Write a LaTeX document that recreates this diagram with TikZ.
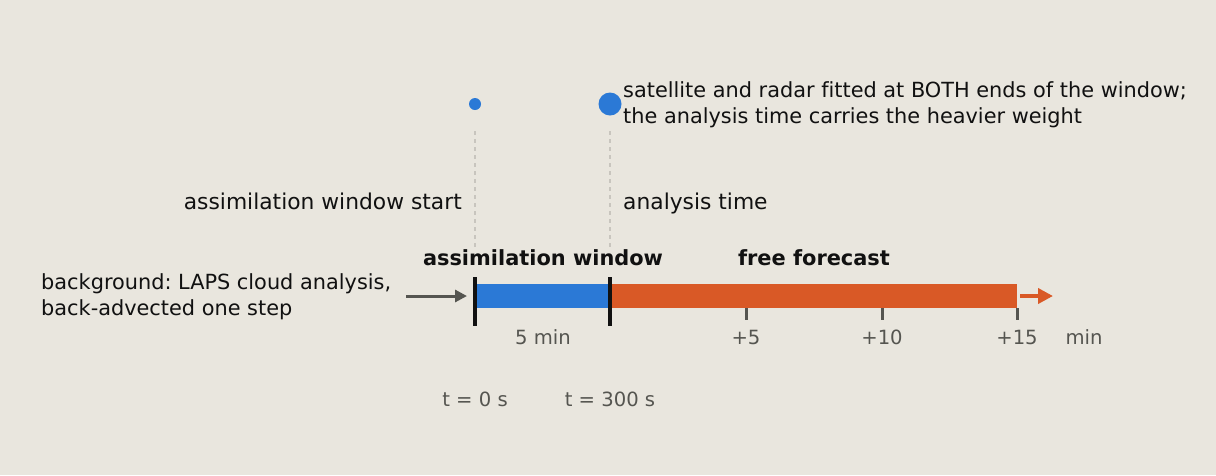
\documentclass[tikz,border=0pt]{standalone}
\usepackage{fontspec}
\setmainfont[Ligatures=NoCommon]{DejaVu Sans}
\usetikzlibrary{arrows.meta}
\definecolor{bg}{HTML}{E9E6DE}
\definecolor{ink}{HTML}{111111}
\definecolor{grayink}{HTML}{555550}
\definecolor{cblue}{HTML}{2B79D6}
\definecolor{corange}{HTML}{D95926}
\definecolor{guide}{HTML}{C8C5BE}
\tikzset{
  main/.style={font=\fontsize{21.8}{26}\selectfont\frenchspacing, text=ink, inner sep=0pt},
  note/.style={font=\fontsize{20.85}{26}\selectfont\frenchspacing, text=ink, inner sep=0pt},
  bold/.style={font=\fontsize{20.9}{25}\selectfont\bfseries, text=ink, inner sep=0pt},
  ticklab/.style={font=\fontsize{19.6}{24}\selectfont, text=grayink, inner sep=0pt},
  edge/.style={line width=4.5pt, draw=ink},
  minortick/.style={line width=3pt, draw=grayink},
  guideline/.style={line width=2.5pt, draw=guide, dash pattern=on 4pt off 4pt},
}
\begin{document}
\begin{tikzpicture}[x=1pt,y=-1pt]
\fill[bg] (0,0) rectangle (1216,475);
\useasboundingbox (0,0) rectangle (1216,475);
% bars
\fill[cblue] (475,284) rectangle (610,307.5);
\fill[corange] (610,284) rectangle (1017,307.5);
% coordinates
\coordinate (s0) at (475,277);
\coordinate (s1) at (475,326);
\coordinate (a0) at (610,277);
\coordinate (a1) at (610,326);
\draw[edge] (s0) -- (s1);
\draw[edge] (a0) -- (a1);
% minor ticks
\foreach \x/\n in {746/p5,882/p10,1017/p15}{
  \coordinate (\n t) at (\x,308);
  \coordinate (\n b) at (\x,320);
  \draw[minortick] (\n t) -- (\n b);
}
% guides
\coordinate (gs0) at (475,131);
\coordinate (gs1) at (475,250);
\coordinate (ga0) at (610,131);
\coordinate (ga1) at (610,250);
\draw[guideline] (gs0) -- (gs1);
\draw[guideline] (ga0) -- (ga1);
% dots
\fill[cblue] (475,104) circle (6);
\fill[cblue] (610,104) circle (11.5);
% arrows
\coordinate (bgA) at (406,296);
\coordinate (bgB) at (467,296);
\draw[grayink, line width=3pt, -{Triangle[length=12pt,width=12pt]}] (bgA) -- (bgB);
\coordinate (ffA) at (1020,296);
\coordinate (ffB) at (1053,296);
\draw[corange, line width=4pt, -{Triangle[length=15pt,width=15pt]}] (ffA) -- (ffB);
% texts
\node[main, anchor=base east] (ws) at (462,209) {assimilation window start};
\node[main, anchor=base west] (at) at (623,209) {analysis time};
\node[note, anchor=base west] (sat1) at (623,97.5) {satellite and radar fitted at BOTH ends of the window;};
\node[note, anchor=base west] (sat2) at (623,123.5) {the analysis time carries the heavier weight};
\node[note, anchor=base west] (bg1) at (41,289) {background: LAPS cloud analysis,};
\node[note, anchor=base west] (bg2) at (41,315.5) {back-advected one step};
\node[bold, anchor=base] (aw) at (543,265) {assimilation window};
\node[bold, anchor=base] (ff) at (814,265) {free forecast};
\node[ticklab, anchor=base] (l5m) at (543,344) {5 min};
\node[ticklab, anchor=base] (l5) at (746,344) {+5};
\node[ticklab, anchor=base] (l10) at (882,344) {+10};
\node[ticklab, anchor=base] (l15) at (1017,344) {+15};
\node[ticklab, anchor=base] (lmin) at (1084,344) {min};
\node[ticklab, anchor=base] (t0) at (475,406) {t = 0 s};
\node[ticklab, anchor=base] (t300) at (610,406) {t = 300 s};
\end{tikzpicture}
\end{document}
